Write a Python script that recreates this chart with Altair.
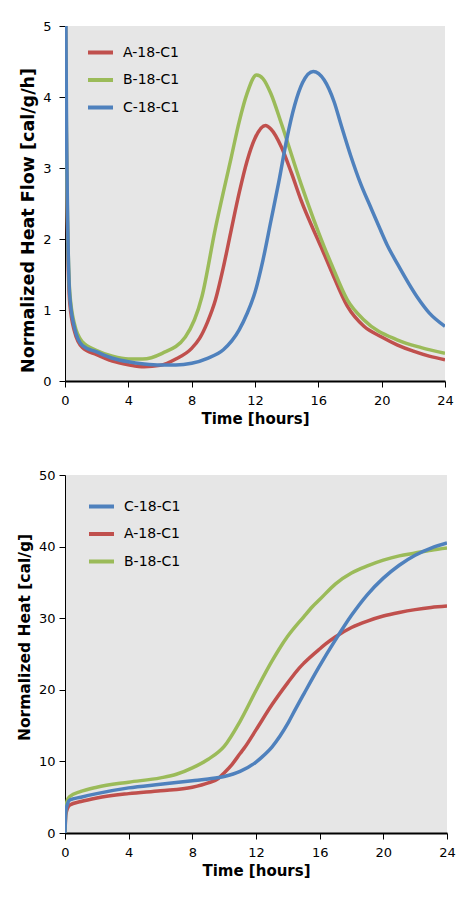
import altair as alt
import pandas as pd

# ---------------- Heat flow (cal/g/h) ----------------
A_flow_t = [0, 0.1, 0.3, 0.6, 1.1, 2, 3, 4, 5, 6, 7, 8, 8.5, 9, 9.5, 10, 10.5, 11, 11.5, 12, 12.66, 13, 13.66, 14.3, 14.9, 16.17, 16.8, 17.84, 18.88, 20, 20.97, 22, 23, 24]
A_flow_v = [6.0, 3.0, 1.1, 0.7, 0.47, 0.37, 0.28, 0.23, 0.2, 0.22, 0.31, 0.46, 0.6, 0.83, 1.14, 1.6, 2.13, 2.65, 3.1, 3.42, 3.6, 3.55, 3.3, 2.93, 2.55, 1.89, 1.56, 1.05, 0.77, 0.62, 0.51, 0.42, 0.35, 0.3]

B_flow_t = [0, 0.1, 0.3, 0.6, 1.1, 2, 3, 4, 4.9, 6.14, 7.6, 8.65, 9.48, 10.5, 11, 11.5, 12.1, 12.5, 13, 13.66, 14.9, 16.37, 16.8, 17.84, 18.88, 20.97, 22.5, 24]
B_flow_v = [6.0, 3.2, 1.25, 0.8, 0.55, 0.43, 0.35, 0.31, 0.31, 0.39, 0.62, 1.19, 2.13, 3.15, 3.65, 4.05, 4.31, 4.26, 4.05, 3.63, 2.78, 1.89, 1.66, 1.14, 0.86, 0.58, 0.47, 0.39]

C_flow_t = [0, 0.1, 0.3, 0.6, 1.1, 2, 3, 4, 5, 6, 7, 8, 9, 10, 11, 11.5, 12, 12.5, 13, 13.5, 14, 14.5, 15, 15.68, 16.37, 17, 17.42, 18.05, 18.67, 19.3, 19.92, 20.34, 20.97, 22.22, 23, 24]
C_flow_v = [7.0, 3.5, 1.2, 0.75, 0.5, 0.41, 0.32, 0.27, 0.24, 0.225, 0.225, 0.25, 0.32, 0.44, 0.72, 0.95, 1.25, 1.7, 2.25, 2.8, 3.4, 3.88, 4.2, 4.36, 4.24, 3.93, 3.62, 3.17, 2.78, 2.45, 2.13, 1.92, 1.66, 1.19, 0.96, 0.77]

# ---------------- Cumulative heat (cal/g) ----------------
A_heat_t = [0, 0.05, 0.15, 0.3, 1, 2, 4, 6, 8, 9, 9.63, 10, 10.5, 11, 11.32, 12, 13, 14, 14.7, 15, 16, 16.38, 17, 18, 19, 20, 21, 22, 23, 24]
A_heat_v = [0, 2.5, 3.4, 3.9, 4.4, 4.9, 5.5, 5.9, 6.4, 7.0, 7.6, 8.4, 9.6, 11.1, 12.05, 14.4, 17.9, 21.0, 23.0, 23.7, 25.7, 26.4, 27.4, 28.7, 29.6, 30.3, 30.8, 31.2, 31.5, 31.7]

B_heat_t = [0, 0.05, 0.15, 0.3, 1, 2, 4, 6, 7, 8, 9, 10, 11, 12, 13, 13.43, 14, 15, 15.54, 16, 17, 18, 19, 20, 21, 22, 23, 24]
B_heat_v = [0, 3.5, 4.6, 5.1, 5.8, 6.4, 7.1, 7.7, 8.2, 9.1, 10.3, 12.1, 15.6, 19.9, 24.0, 25.6, 27.5, 30.2, 31.6, 32.6, 34.8, 36.3, 37.3, 38.1, 38.7, 39.1, 39.5, 39.8]

C_heat_t = [0, 0.05, 0.15, 0.3, 1, 2, 4, 6, 8, 9, 10, 11, 12, 12.37, 13, 13.5, 14, 14.48, 15, 15.96, 17, 18, 19, 20, 21, 22, 23, 24]
C_heat_v = [0, 3.0, 4.0, 4.6, 5.0, 5.5, 6.3, 6.8, 7.3, 7.55, 7.9, 8.6, 9.9, 10.6, 12.0, 13.5, 15.3, 17.3, 19.4, 23.2, 27.0, 30.4, 33.3, 35.6, 37.4, 38.8, 39.8, 40.5]

COLORS = {"A-18-C1": "#c0504d", "B-18-C1": "#9bbb59", "C-18-C1": "#4f81bd"}
TOP_ORDER = ["A-18-C1", "B-18-C1", "C-18-C1"]
BOTTOM_ORDER = ["C-18-C1", "A-18-C1", "B-18-C1"]
X_TICKS = [0, 4, 8, 12, 16, 20, 24]
FLOW_TICKS = [0, 1, 2, 3, 4, 5]
HEAT_TICKS = [0, 10, 20, 30, 40, 50]


def frame(series):
    rows = []
    for name, ts, vs in series:
        for i, (t, v) in enumerate(zip(ts, vs)):
            rows.append({"series": name, "t": t, "v": v, "i": i})
    return pd.DataFrame(rows)


flow_df = frame([
    ("A-18-C1", A_flow_t, A_flow_v),
    ("B-18-C1", B_flow_t, B_flow_v),
    ("C-18-C1", C_flow_t, C_flow_v),
])
heat_df = frame([
    ("A-18-C1", A_heat_t, A_heat_v),
    ("B-18-C1", B_heat_t, B_heat_v),
    ("C-18-C1", C_heat_t, C_heat_v),
])

LABEL_FONT = "DejaVu Sans"


def legend(x, y, row_pad):
    return alt.Legend(
        title=None, orient="none", legendX=x, legendY=y,
        symbolType="stroke", symbolSize=625, symbolStrokeWidth=4,
        labelFontSize=14, labelFont=LABEL_FONT, labelColor="#000000",
        labelOffset=8, rowPadding=row_pad, padding=0,
    )


def x_enc():
    return alt.X(
        "t:Q", scale=alt.Scale(domain=[0, 24], nice=False),
        axis=alt.Axis(values=X_TICKS, title="Time [hours]", labelFlush=False,
                      labelPadding=7, titlePadding=4, domainWidth=2),
    )


top = alt.Chart(flow_df).mark_line(strokeWidth=3.5, clip=True, interpolate="monotone").encode(
    x=x_enc(),
    y=alt.Y("v:Q", scale=alt.Scale(domain=[0, 5], nice=False),
            axis=alt.Axis(values=FLOW_TICKS, title="Normalized Heat Flow [cal/g/h]",
                          titleFontSize=17.5, labelPadding=8, titlePadding=5, titleY=194)),
    color=alt.Color("series:N",
                    scale=alt.Scale(domain=TOP_ORDER, range=[COLORS[n] for n in TOP_ORDER]),
                    legend=legend(21, 12, 4.5)),
    order=alt.Order("i:Q"),
).properties(width=380, height=355)

bottom = alt.Chart(heat_df).mark_line(strokeWidth=3.5, clip=True, interpolate="monotone").encode(
    x=x_enc(),
    y=alt.Y("v:Q", scale=alt.Scale(domain=[0, 50], nice=False),
            axis=alt.Axis(values=HEAT_TICKS, title="Normalized Heat [cal/g]",
                          titleFontSize=15.5, labelPadding=4, titlePadding=6, titleY=162)),
    color=alt.Color("series:N",
                    scale=alt.Scale(domain=BOTTOM_ORDER, range=[COLORS[n] for n in BOTTOM_ORDER]),
                    legend=legend(22, 17, 4.5)),
    order=alt.Order("i:Q"),
).properties(width=382, height=358)

chart = alt.vconcat(top, bottom, spacing=43).resolve_scale(
    color="independent"
).properties(
    padding={"left": 9, "top": 12, "right": 5, "bottom": 5}
).configure_view(
    fill="#e6e6e6", stroke=None
).configure_axis(
    grid=False, domainColor="#000000", tickColor="#000000", tickSize=6,
    labelColor="#000000", labelFont=LABEL_FONT, labelFontSize=13,
    titleColor="#000000", titleFont=LABEL_FONT, titleFontSize=15, titleFontWeight="bold",
)

chart.save("out.html", embed_options={"renderer": "svg", "actions": False})
